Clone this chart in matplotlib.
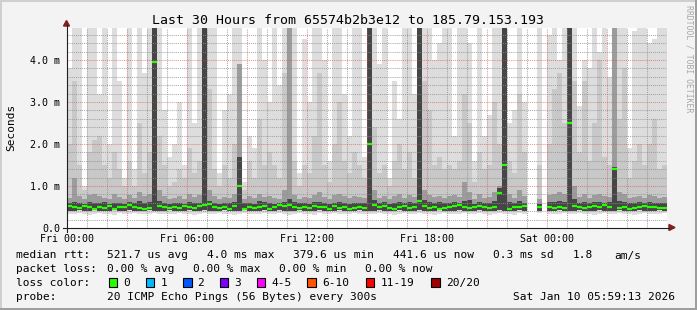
import numpy as np
import matplotlib
matplotlib.use('Agg')
import matplotlib.pyplot as plt
from matplotlib.patches import Rectangle, Polygon
from matplotlib.lines import Line2D

nan = np.nan

# 15 minute buckets starting Fri 00:00, values in ms (ping rtt smoke layers)
rtt_max = [
    3.8, 5, 5, 1.0, 5, 5, 3.2, 5, 2.0, 5, 3.5, 1.2, 5, 1.4, 5, 3.7, 5, 5, 5, 2.8,
    1.7, 2.0, 3.0, 1.5, 5, 2.5, 5, 5, 5, 5, 1.3, 2.8, 3.2, 5, 5, 1.1, 2.2, 1.9, 5, 4.0,
    3.0, 5, 3.4, 5, 5, 5, 1.3, 4.5, 3.0, 5, 5, 4.0, 1.6, 5, 5, 3.2, 2.2, 5, 5, 1.7,
    5, 5, 3.9, 5, 1.2, 3.5, 2.6, 5, 5, 3.2, 5, 5, 5, 4.0, 4.4, 5, 5, 2.2, 5, 5,
    4.4, 1.6, 5, 2.2, 2.7, 5, 5, 5, 2.5, 2.8, 5, 3.0, nan, nan, 5, nan, 4.6, 5, 4.0, 5,
    5, 5, 2.9, 4.0, 3.8, 5, 4.2, 5, 3.6, 5, 5, 5, 1.9, 4.7, 5, 5, 4.4, 4.5, 5, 5,
]
rtt_high = [
    2.0, 3.5, 1.5, 0.9, 1.8, 2.1, 2.2, 1.5, 1.2, 1.8, 1.4, 1.0, 1.6, 1.0, 2.5, 1.3, 1.8, 5, 2.2, 1.5,
    1.0, 1.1, 1.4, 1.2, 1.9, 1.3, 1.6, 5, 3.3, 1.4, 1.0, 1.5, 1.2, 2.0, 3.9, 0.9, 1.6, 1.2, 2.6, 1.5,
    1.8, 1.5, 1.2, 3.7, 5, 1.6, 1.0, 1.5, 1.3, 2.2, 3.7, 1.5, 1.1, 2.0, 3.0, 1.6, 1.3, 1.8, 1.5, 1.2,
    5, 2.4, 1.3, 1.5, 1.0, 1.6, 2.0, 1.4, 1.8, 1.2, 5, 3.5, 2.8, 1.5, 1.7, 1.4, 1.5, 1.4, 1.6, 3.2,
    2.5, 1.1, 1.8, 1.4, 1.5, 3.0, 2.0, 5, 1.6, 1.3, 3.2, 1.8, nan, nan, 1.5, nan, 2.0, 3.3, 3.7, 2.5,
    5, 3.5, 1.8, 3.5, 1.6, 2.5, 4.0, 1.7, 1.5, 5, 2.6, 3.8, 1.2, 1.6, 2.0, 1.5, 2.0, 2.6, 1.4, 1.5,
]
rtt_mid = [
    0.72, 1.2, 0.75, 0.7, 0.78, 0.8, 0.75, 0.72, 0.7, 0.8, 0.74, 0.7, 0.78, 0.72, 0.85, 0.75, 0.8, 5, 0.9, 0.75,
    0.7, 0.72, 0.75, 0.7, 0.8, 0.74, 0.78, 5, 0.9, 0.75, 0.7, 0.74, 0.72, 0.8, 3.9, 0.7, 0.76, 0.72, 0.8, 0.74,
    0.75, 0.72, 0.7, 0.9, 5, 0.78, 0.7, 0.74, 0.72, 0.78, 0.85, 0.74, 0.7, 0.78, 0.8, 0.75, 0.72, 0.76, 0.74, 0.72,
    5, 0.9, 0.72, 0.75, 0.7, 0.76, 0.8, 0.72, 0.78, 0.74, 5, 0.9, 0.78, 0.74, 0.76, 0.72, 0.75, 0.78, 0.74, 1.1,
    0.85, 0.7, 0.8, 0.72, 0.74, 0.85, 1.0, 5, 0.8, 0.72, 0.9, 0.75, nan, nan, 0.7, nan, 0.78, 0.8, 0.85, 0.8,
    5, 1.0, 0.74, 0.8, 0.72, 0.78, 0.8, 0.75, 0.74, 5, 0.85, 0.8, 0.72, 0.74, 0.76, 0.72, 0.78, 0.75, 0.72, 0.74,
]
rtt_core = [
    0.6, 0.62, 0.6, 0.58, 0.62, 0.6, 0.6, 0.63, 0.58, 0.6, 0.6, 0.58, 0.62, 0.6, 0.65, 0.6, 0.62, 5, 0.65, 0.6,
    0.58, 0.6, 0.6, 0.58, 0.62, 0.6, 0.6, 5, 0.65, 0.6, 0.58, 0.6, 0.6, 0.62, 1.7, 0.6, 0.6, 0.58, 0.64, 0.62,
    0.6, 0.58, 0.6, 0.62, 0.7, 0.62, 0.6, 0.6, 0.58, 0.62, 0.62, 0.6, 0.58, 0.6, 0.62, 0.6, 0.58, 0.6, 0.6, 0.6,
    5, 0.66, 0.6, 0.62, 0.58, 0.6, 0.62, 0.6, 0.62, 0.6, 5, 0.66, 0.62, 0.6, 0.62, 0.6, 0.6, 0.62, 0.6, 0.64,
    0.66, 0.58, 0.62, 0.6, 0.6, 0.64, 0.95, 5, 0.62, 0.6, 0.64, 0.6, nan, nan, 0.58, nan, 0.62, 0.62, 0.64, 0.62,
    5, 0.7, 0.6, 0.62, 0.6, 0.62, 0.62, 0.6, 0.62, 1.45, 0.64, 0.62, 0.6, 0.6, 0.62, 0.6, 0.62, 0.6, 0.6, 0.6,
]
rtt_low = [
    0.41, 0.4, 0.42, 0.41, 0.4, 0.42, 0.41, 0.4, 0.41, 0.42, 0.4, 0.41, 0.42, 0.41, 0.4, 0.41, 0.42, 0.41, 0.4, 0.41,
    0.42, 0.41, 0.4, 0.41, 0.42, 0.41, 0.4, 0.42, 0.41, 0.4, 0.41, 0.42, 0.41, 0.4, 0.41, 0.42, 0.41, 0.4, 0.41, 0.42,
    0.41, 0.4, 0.42, 0.41, 0.4, 0.41, 0.42, 0.41, 0.4, 0.41, 0.42, 0.41, 0.4, 0.41, 0.42, 0.41, 0.4, 0.41, 0.42, 0.41,
    0.4, 0.41, 0.42, 0.41, 0.4, 0.41, 0.42, 0.41, 0.4, 0.41, 0.42, 0.41, 0.4, 0.41, 0.42, 0.41, 0.4, 0.41, 0.42, 0.41,
    0.4, 0.41, 0.42, 0.41, 0.4, 0.41, 0.42, 0.41, 0.4, 0.41, 0.42, 0.41, nan, nan, 0.41, nan, 0.4, 0.41, 0.42, 0.41,
    0.4, 0.41, 0.42, 0.41, 0.4, 0.41, 0.42, 0.41, 0.4, 0.41, 0.42, 0.41, 0.4, 0.41, 0.42, 0.41, 0.4, 0.41, 0.42, 0.41,
]
rtt_min = [
    0.34, 0.33, 0.35, 0.34, 0.32, 0.34, 0.35, 0.33, 0.34, 0.32, 0.35, 0.34, 0.33, 0.35, 0.34, 0.33, 0.34, 0.35, 0.33, 0.34,
    0.33, 0.34, 0.35, 0.33, 0.34, 0.32, 0.34, 0.35, 0.33, 0.34, 0.35, 0.33, 0.34, 0.32, 0.34, 0.35, 0.33, 0.34, 0.33, 0.35,
    0.34, 0.33, 0.35, 0.34, 0.32, 0.34, 0.35, 0.33, 0.34, 0.32, 0.35, 0.34, 0.33, 0.35, 0.34, 0.33, 0.34, 0.35, 0.33, 0.34,
    0.33, 0.34, 0.35, 0.33, 0.34, 0.32, 0.34, 0.35, 0.33, 0.34, 0.35, 0.33, 0.34, 0.32, 0.34, 0.35, 0.33, 0.34, 0.33, 0.35,
    0.34, 0.33, 0.35, 0.34, 0.32, 0.34, 0.35, 0.33, 0.34, 0.32, 0.35, 0.34, nan, nan, 0.35, nan, 0.34, 0.33, 0.34, 0.35,
    0.33, 0.34, 0.35, 0.33, 0.34, 0.32, 0.34, 0.35, 0.33, 0.34, 0.35, 0.33, 0.34, 0.32, 0.34, 0.35, 0.33, 0.34, 0.33, 0.35,
]
rtt_median = [
    0.52, 0.5, 0.47, 0.52, 0.49, 0.45, 0.5, 0.48, 0.53, 0.46, 0.5, 0.49, 0.55, 0.5, 0.47, 0.46, 0.48, 3.95, 0.52, 0.5,
    0.47, 0.5, 0.48, 0.52, 0.5, 0.47, 0.53, 0.55, 0.58, 0.5, 0.48, 0.5, 0.46, 0.52, 1.0, 0.45, 0.49, 0.47, 0.5, 0.52,
    0.46, 0.5, 0.55, 0.52, 0.55, 0.5, 0.47, 0.5, 0.47, 0.52, 0.49, 0.5, 0.46, 0.52, 0.48, 0.5, 0.45, 0.48, 0.5, 0.47,
    2.0, 0.55, 0.5, 0.52, 0.48, 0.46, 0.5, 0.53, 0.48, 0.5, 0.65, 0.52, 0.47, 0.5, 0.45, 0.48, 0.5, 0.52, 0.55, 0.5,
    0.48, 0.5, 0.52, 0.5, 0.48, 0.5, 0.84, 1.5, 0.46, 0.5, 0.49, 0.52, nan, nan, 0.5, nan, 0.5, 0.48, 0.5, 0.47,
    2.5, 0.52, 0.5, 0.47, 0.5, 0.53, 0.5, 0.55, 0.5, 1.4, 0.48, 0.5, 0.46, 0.47, 0.5, 0.53, 0.5, 0.49, 0.47, 0.48,
]

xtick_hours = [0, 6, 12, 18, 24]
xtick_labels = ['Fri 00:00', 'Fri 06:00', 'Fri 12:00', 'Fri 18:00', 'Sat 00:00']
ytick_values = [0, 1, 2, 3, 4]
ytick_labels = ['0.0', '1.0 m', '2.0 m', '3.0 m', '4.0 m']

loss_labels = ['0', '1', '2', '3', '4-5', '6-10', '11-19', '20/20']
loss_colors = ['#26ff00', '#00b8ff', '#0059ff', '#7e00ff', '#ff00ff', '#ff5500', '#ff0000', '#a00000']

title = 'Last 30 Hours from 65574b2b3e12 to 185.79.153.193'

W, H = 697, 310
MONO = 'DejaVu Sans Mono'


def fx(x):
    return x / W


def fy(y):
    return 1 - y / H


fig = plt.figure(figsize=(W / 100, H / 100), dpi=100)
fig.patch.set_facecolor('#f3f3f3')

ax = fig.add_axes([fx(67), fy(228), 600 / W, 200 / H])
ax.set_facecolor('white')
ax.set_xlim(0, 30)
ax.set_ylim(0, 4.76)
for s in ax.spines.values():
    s.set_visible(False)

# smoke layers, lightest (outer pings) first
t = np.arange(len(rtt_max)) * 0.25
layers = [
    (rtt_min, rtt_max, '#dddddd'),
    (rtt_low, rtt_high, '#c8c8c8'),
    (rtt_low, rtt_mid, '#9c9c9c'),
    (rtt_low, rtt_core, '#464646'),
]
for lo, hi, col in layers:
    lo = np.array(lo)
    hi = np.array(hi)
    ax.bar(t, hi - lo, bottom=lo, width=0.25, align='edge', color=col,
           linewidth=0, antialiased=False, zorder=1)

# grid (dotted, drawn over the smoke)
minor_c = (0.56, 0.56, 0.56, 0.75)
major_c = (0.87, 0.31, 0.31, 0.6)
for h in range(1, 30):
    ax.axvline(h, color=major_c if h % 3 == 0 else minor_c, lw=0.75,
               linestyle=(0, (1, 1)), zorder=3)
for k in range(1, 24):
    v = k * 0.2
    ax.axhline(v, color=major_c if k % 5 == 0 else minor_c, lw=0.75,
               linestyle=(0, (1, 1)), zorder=3)

# median rtt, coloured by loss (all 0 loss here)
ax.hlines(rtt_median, t, t + 0.25, colors=loss_colors[0], lw=1.6, zorder=4)

ax.set_xticks(xtick_hours)
ax.set_xticklabels(xtick_labels, family=MONO, fontsize=7.2)
ax.set_yticks(ytick_values)
ax.set_yticklabels(ytick_labels, family=MONO, fontsize=7.2)
ax.tick_params(axis='both', length=0)
ax.tick_params(axis='y', pad=5)
ax.tick_params(axis='x', pad=4)

# axes with arrows
axis_c = '#1f1f1f'
arrow_c = '#801f1f'
fig.add_artist(Line2D([fx(63), fx(669)], [fy(227.5), fy(227.5)], color=axis_c, lw=0.8,
                      transform=fig.transFigure))
fig.add_artist(Line2D([fx(66.5), fx(66.5)], [fy(232), fy(25)], color=axis_c, lw=0.8,
                      transform=fig.transFigure))
fig.add_artist(Polygon([[fx(669), fy(224.5)], [fx(669), fy(230.5)], [fx(675), fy(227.5)]],
                       closed=True, color=arrow_c, transform=fig.transFigure))
fig.add_artist(Polygon([[fx(63.5), fy(26)], [fx(69.5), fy(26)], [fx(66.5), fy(20.5)]],
                       closed=True, color=arrow_c, transform=fig.transFigure))

# texts
fig.text(fx(348), fy(24), title, ha='center', va='baseline', family=MONO, fontsize=9.55)
fig.text(fx(11), fy(127), 'Seconds', rotation=90, ha='center', va='center',
         family=MONO, fontsize=8)
fig.text(fx(689), fy(5), 'RRDTOOL / TOBI OETIKER', rotation=270, ha='center', va='top',
         family=MONO, fontsize=5.9, color='#a8a8a8')

legend_rows = [
    (258.5, [(16, 'median rtt:'), (107.3, '521.7 us avg'), (207.3, '4.0 ms max'),
             (293.3, '379.6 us min'), (393.3, '441.6 us now'), (493.3, '0.3 ms sd'),
             (572.7, '1.8'), (614.3, 'am/s')]),
    (272.3, [(16, 'packet loss:'), (107, '0.00 % avg'), (193.3, '0.00 % max'),
             (279, '0.00 % min'), (365, '0.00 % now')]),
    (285.8, [(16, 'loss color:')]),
    (300, [(16, 'probe:'), (107.3, '20 ICMP Echo Pings (56 Bytes) every 300s'),
           (513.3, 'Sat Jan 10 05:59:13 2026')]),
]
for yb, parts in legend_rows:
    for x, s in parts:
        fig.text(fx(x), fy(yb), s, ha='left', va='baseline', family=MONO, fontsize=8)

box_x = [108.7, 145.7, 183, 219.7, 256.7, 307.3, 365.7, 431]
label_x = [123.3, 160.7, 197.3, 234.3, 271.7, 322, 380.7, 445.7]
for bx, lx, lab, col in zip(box_x, label_x, loss_labels, loss_colors):
    fig.add_artist(Rectangle((fx(bx), fy(286.5)), 8.5 / W, 9 / H, facecolor=col,
                             edgecolor='black', lw=0.8, transform=fig.transFigure))
    fig.text(fx(lx), fy(285.8), lab, ha='left', va='baseline', family=MONO, fontsize=8)

# 3d frame
fig.add_artist(Rectangle((0, 1 - 2 / H), 1, 2 / H, color='#cfcfcf', lw=0, transform=fig.transFigure))
fig.add_artist(Rectangle((0, 0), 2 / W, 1, color='#cfcfcf', lw=0, transform=fig.transFigure))
fig.add_artist(Rectangle((0, 0), 1, 2 / H, color='#9e9e9e', lw=0, transform=fig.transFigure))
fig.add_artist(Rectangle((1 - 2 / W, 0), 2 / W, 1, color='#9e9e9e', lw=0, transform=fig.transFigure))

fig.savefig('out.png', dpi=100, facecolor=fig.get_facecolor())
